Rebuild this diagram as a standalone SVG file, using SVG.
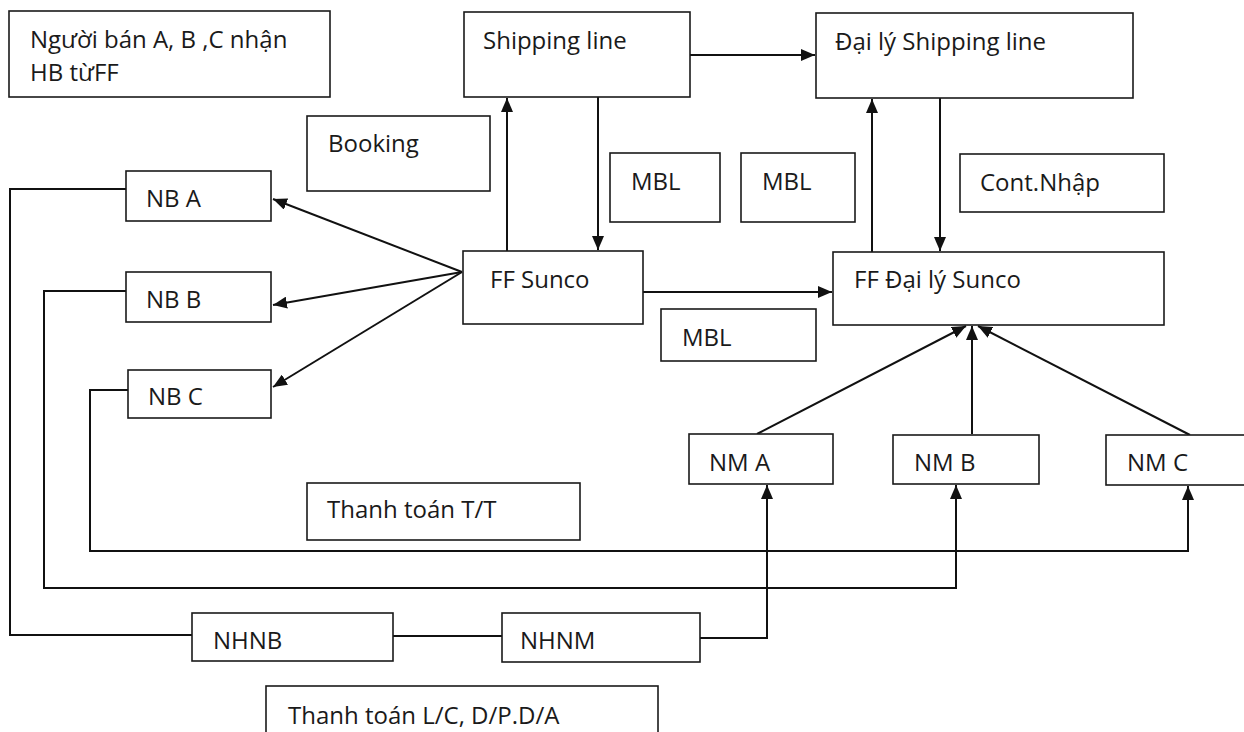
<svg xmlns="http://www.w3.org/2000/svg" width="1244" height="732" viewBox="0 0 1244 732">
<style>
.box{fill:#fff;stroke:#1a1a1a;stroke-width:1.6}
.t{font-family:"Open Sans","Noto Sans",sans-serif;font-size:24px;fill:#1a1a1a}
.c{fill:none;stroke:#111;stroke-width:2}
.a{marker-end:url(#arr)}
</style>
<defs>
<marker id="arr" markerUnits="userSpaceOnUse" markerWidth="15" markerHeight="12" refX="14" refY="6" orient="auto">
<path d="M0,0 L14,6 L0,12 z" fill="#111"/>
</marker>
</defs>
<rect width="1244" height="732" fill="#fff"/>
<g id="connectors">
<path class="c a" d="M507 251 V98"/>
<path class="c a" d="M598 97 V250"/>
<path class="c a" d="M690 55 H815"/>
<path class="c a" d="M872 252 V99"/>
<path class="c a" d="M940 98 V251"/>
<path class="c a" d="M643 292 H832"/>
<path class="c a" d="M462 272 L273 199"/>
<path class="c a" d="M462 272 L273 305"/>
<path class="c a" d="M462 272 L273 387"/>
<path class="c a" d="M757 434 L966 326"/>
<path class="c a" d="M972 434 V326"/>
<path class="c a" d="M1190 435 L978 326"/>
<path class="c" d="M126 189 H10 V635 H192"/>
<path class="c" d="M393 636 H502"/>
<path class="c a" d="M700 638 H767 V485"/>
<path class="c a" d="M126 291 H44 V588 H956 V485"/>
<path class="c a" d="M128 390 H90 V551 H1188 V486"/>
</g>
<g id="note-hb"><rect class="box" x="9" y="11" width="321" height="86"/><text class="t" x="30" y="48">Người bán A, B ,C nhận</text><text class="t" x="30" y="81">HB từFF</text></g>
<g id="shipping-line"><rect class="box" x="464" y="12" width="226" height="85"/><text class="t" x="483" y="49">Shipping line</text></g>
<g id="dai-ly-shipping"><rect class="box" x="816" y="13" width="317" height="85"/><text class="t" x="835" y="50">Đại lý Shipping line</text></g>
<g id="booking"><rect class="box" x="307" y="116" width="183" height="75"/><text class="t" x="328" y="152">Booking</text></g>
<g id="mbl1"><rect class="box" x="610" y="153" width="110" height="69"/><text class="t" x="631" y="190">MBL</text></g>
<g id="mbl2"><rect class="box" x="741" y="153" width="114" height="69"/><text class="t" x="762" y="190">MBL</text></g>
<g id="cont-nhap"><rect class="box" x="960" y="154" width="204" height="58"/><text class="t" x="980" y="191">Cont.Nhập</text></g>
<g id="nb-a"><rect class="box" x="126" y="171" width="145" height="50"/><text class="t" x="146" y="207">NB A</text></g>
<g id="nb-b"><rect class="box" x="126" y="272" width="145" height="50"/><text class="t" x="146" y="308">NB B</text></g>
<g id="nb-c"><rect class="box" x="128" y="370" width="143" height="48"/><text class="t" x="148" y="405">NB C</text></g>
<g id="ff-sunco"><rect class="box" x="463" y="251" width="180" height="73"/><text class="t" x="490" y="288">FF Sunco</text></g>
<g id="ff-dai-ly-sunco"><rect class="box" x="833" y="252" width="331" height="73"/><text class="t" x="854" y="288">FF Đại lý Sunco</text></g>
<g id="mbl3"><rect class="box" x="661" y="309" width="155" height="52"/><text class="t" x="682" y="346">MBL</text></g>
<g id="nm-a"><rect class="box" x="689" y="434" width="144" height="50"/><text class="t" x="709" y="471">NM A</text></g>
<g id="nm-b"><rect class="box" x="893" y="435" width="146" height="49"/><text class="t" x="914" y="471">NM B</text></g>
<g id="nm-c"><rect class="box" x="1106" y="435" width="146" height="50"/><text class="t" x="1127" y="471">NM C</text></g>
<g id="tt-tt"><rect class="box" x="307" y="483" width="273" height="57"/><text class="t" x="327" y="518">Thanh toán T/T</text></g>
<g id="nhnb"><rect class="box" x="192" y="613" width="201" height="48"/><text class="t" x="213" y="649">NHNB</text></g>
<g id="nhnm"><rect class="box" x="502" y="613" width="198" height="49"/><text class="t" x="520" y="649">NHNM</text></g>
<g id="tt-lc"><rect class="box" x="266" y="686" width="392" height="52"/><text class="t" x="288" y="724">Thanh toán L/C, D/P.D/A</text></g>
</svg>
